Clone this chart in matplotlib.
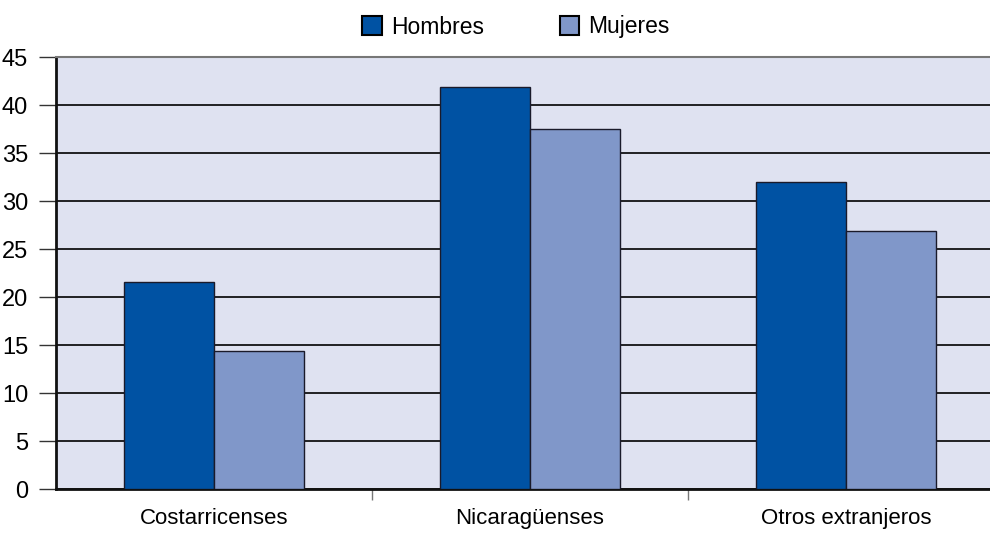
import matplotlib.pyplot as plt
import numpy as np
from matplotlib.patches import Patch

categorias = ["Costarricenses", "Nicaragüenses", "Otros extranjeros"]
hombres = [21.6, 41.9, 32.0]
mujeres = [14.4, 37.5, 26.9]
yticks = [0, 5, 10, 15, 20, 25, 30, 35, 40, 45]

plt.rcParams['font.family'] = ['Liberation Sans', 'DejaVu Sans']

fig = plt.figure(figsize=(9.9, 5.33), dpi=100)
W, H = 990, 533
ax = fig.add_axes([56 / W, (H - 489) / H, (1004 - 56) / W, (489 - 57) / H])

x = np.arange(len(categorias))
ancho = 0.285
ax.bar(x - ancho / 2, hombres, ancho, color='#0052A3', edgecolor='#1a1a2a',
       linewidth=1, zorder=3, label='Hombres')
ax.bar(x + ancho / 2, mujeres, ancho, color='#8097C9', edgecolor='#1a1a2a',
       linewidth=1, zorder=3, label='Mujeres')

ax.set_facecolor('#DFE2F1')
ax.set_xlim(-0.5, 2.5)
ax.set_ylim(0, 45)
ax.set_yticks(yticks)
ax.set_yticklabels([str(v) for v in yticks], fontsize=17)
ax.yaxis.grid(True, color='black', linewidth=1.2, zorder=1)
ax.set_axisbelow(True)
ax.tick_params(axis='y', length=12, width=1, color='#333333', pad=8)

# category ticks sit on the boundaries, labels centred below each group
ax.set_xticks([0.5, 1.5], minor=False)
ax.set_xticklabels([])
ax.set_xticks(x, minor=True)
ax.set_xticklabels(categorias, minor=True, fontsize=16)
ax.tick_params(axis='x', which='major', length=8, width=1, color='#777777')
ax.tick_params(axis='x', which='minor', length=0, pad=14)

for lado in ['left', 'bottom']:
    ax.spines[lado].set_linewidth(2)
    ax.spines[lado].set_color('#111111')
ax.spines['top'].set_color('#777777')
ax.spines['top'].set_linewidth(1.5)
ax.spines['right'].set_visible(False)

handles = [Patch(facecolor='#0052A3', edgecolor='black', linewidth=1.5),
           Patch(facecolor='#8097C9', edgecolor='black', linewidth=1.5)]
fig.legend(handles, ['Hombres', 'Mujeres'], loc='center', bbox_to_anchor=(516 / W, 1 - 27 / H),
           ncol=2, frameon=False, fontsize=16.5, handlelength=0.85, handleheight=0.9,
           handletextpad=0.4, columnspacing=3.3, borderpad=0)

fig.savefig('out.png', dpi=100)
